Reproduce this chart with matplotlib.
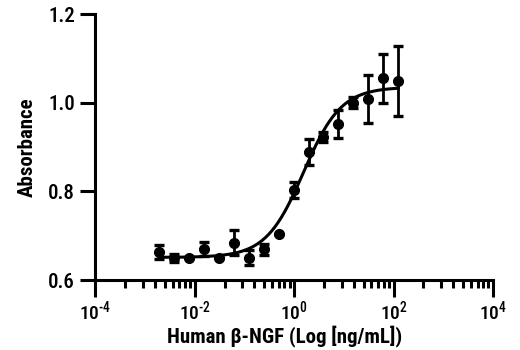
import numpy as np
import matplotlib
matplotlib.use("Agg")
import matplotlib.pyplot as plt
from matplotlib.ticker import FixedLocator, NullFormatter

plt.rcParams['font.family'] = ['Roboto Condensed', 'DejaVu Sans']
plt.rcParams['mathtext.fontset'] = 'custom'
plt.rcParams['mathtext.rm'] = 'Roboto Condensed:medium'
plt.rcParams['mathtext.default'] = 'rm'

# twofold dilution series, ng/mL
conc = [125 / 2 ** k for k in range(16, -1, -1)]
absorb = [0.664, 0.649, 0.649, 0.670, 0.650, 0.684, 0.650, 0.669, 0.703,
          0.803, 0.889, 0.923, 0.952, 1.000, 1.008, 1.055, 1.049]
sd = [0.016, 0.009, 0.0, 0.015, 0.0, 0.028, 0.017, 0.012, 0.0,
      0.019, 0.030, 0.011, 0.031, 0.012, 0.054, 0.055, 0.079]

xticks = [1e-4, 1e-2, 1e0, 1e2, 1e4]
xlabels = [r'10$^{\text{-4}}$', r'10$^{\text{-2}}$', r'10$^{\text{0}}$',
           r'10$^{\text{2}}$', r'10$^{\text{4}}$']
yticks = [0.6, 0.8, 1.0, 1.2]
ylabels = ['0.6', '0.8', '1.0', '1.2']

# 4PL fit parameters
bottom, top, log_ec50, hill = 0.651, 1.035, 0.19, 1.15

def four_pl(x):
    return bottom + (top - bottom) / (1 + 10 ** ((log_ec50 - np.log10(x)) * hill))

fig = plt.figure(figsize=(5.2, 3.5), dpi=100)
ax = fig.add_axes([0.183, 0.2, 0.765, 0.76])

xfit = np.logspace(np.log10(conc[0]), np.log10(conc[-1]), 300)
ax.plot(xfit, four_pl(xfit), color='black', lw=2.2, zorder=2)
ax.errorbar(conc, absorb, yerr=sd, fmt='o', color='black', ms=7,
            elinewidth=2.0, capsize=3.8, capthick=2.4, zorder=3)

ax.set_xscale('log')
ax.set_xlim(1e-4, 1e4)
ax.set_ylim(0.6, 1.2)
ax.set_xticks(xticks)
ax.set_xticklabels(xlabels)
ax.set_yticks(yticks)
ax.set_yticklabels(ylabels)

# minor ticks spaced as k^2 within each 100-fold step
minors = [10.0 ** e * k ** 2 for e in (-4, -2, 0, 2) for k in range(2, 10)]
ax.xaxis.set_minor_locator(FixedLocator(minors))
ax.xaxis.set_minor_formatter(NullFormatter())
ax.yaxis.set_minor_locator(FixedLocator([]))

for s in ('top', 'right'):
    ax.spines[s].set_visible(False)
for s in ('left', 'bottom'):
    ax.spines[s].set_linewidth(2.2)

ax.tick_params(axis='x', which='major', direction='out', length=12, width=2.2,
               labelsize=14, pad=2)
ax.tick_params(axis='x', which='minor', direction='out', length=6, width=2.2)
ax.tick_params(axis='y', which='major', direction='out', length=10.5, width=2.2,
               labelsize=15, pad=4)
for lab in ax.get_xticklabels() + ax.get_yticklabels():
    lab.set_fontweight('medium')

ax.set_xlabel('Human β-NGF (Log [ng/mL])', fontsize=15, fontweight='bold',
              labelpad=1, x=0.477)
ax.set_ylabel('Absorbance', fontsize=15, fontweight='bold', labelpad=8)

fig.savefig('out.png', dpi=100)
